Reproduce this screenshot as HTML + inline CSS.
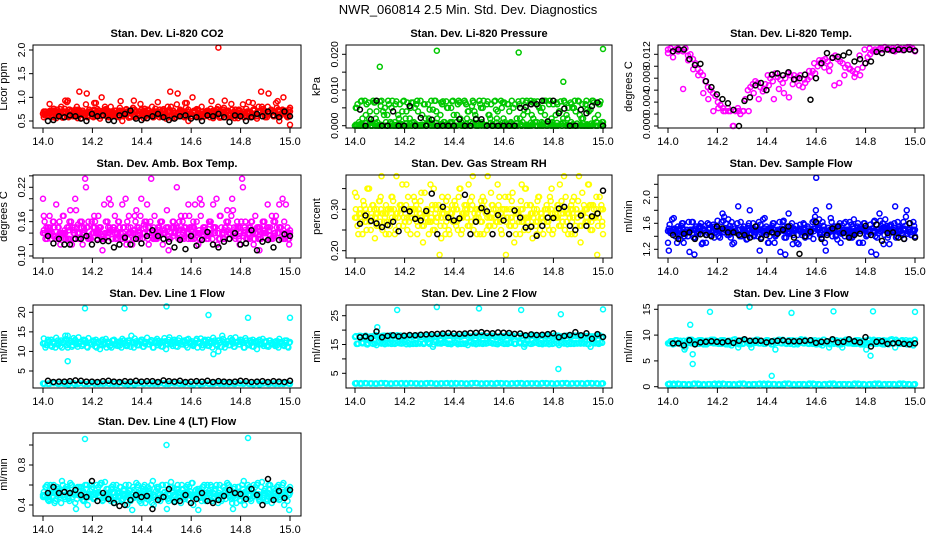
<!DOCTYPE html>
<html><head><meta charset="utf-8">
<style>
html,body{margin:0;padding:0;background:#fff;}
svg{display:block;font-family:"Liberation Sans",sans-serif;}
</style></head>
<body>
<svg id="chart" width="936" height="540" viewBox="0 0 936 540" xmlns="http://www.w3.org/2000/svg">
<rect x="0" y="0" width="936" height="540" fill="#fff"/>
<text x="468" y="14" text-anchor="middle" font-size="13">NWR_060814  2.5 Min. Std. Dev. Diagnostics</text>
</svg>
<script>
const xTicks = [14.0, 14.2, 14.4, 14.6, 14.8, 15.0];
const xTickLabels = ["14.0", "14.2", "14.4", "14.6", "14.8", "15.0"];

const co2Col = [0.65,0.7,0.6,0.72,0.58,0.68,0.62,0.75,0.57,0.66,0.93,0.7,0.6,0.74,0.56,0.68,0.72,0.62,0.58,0.7,0.66,0.6,0.75,0.55,0.7,0.8,0.62,0.58,0.68,0.72,0.6,0.78,0.5,0.66,0.7,0.6,0.74,0.58,0.65,0.7,0.62,0.76,0.56,0.68,0.8,0.6,0.7,0.58,0.72,0.64,0.6,0.74,0.56,0.68,0.85,0.62,0.7,0.58,0.88,0.66,0.6,0.72,0.75,0.58,0.8,0.66,0.62,0.7,0.92,0.6,0.74,0.66,0.58,0.78,0.68,0.62,0.86,0.7,0.6,0.74,0.66,0.58,0.76,0.9,0.64,0.72,0.6,0.8,1.12,0.68,0.62,1.08,0.74,0.6,0.88,0.7,0.64,1.0,0.72,0.6];
const co2Col2 = [0.66,0.62,0.7,0.64,0.68,0.6,0.66,0.7,0.62,0.68,0.64,0.66,0.7,0.62,0.66,0.68,0.64,0.7,0.62,0.66,0.68,0.64,0.66,0.7,0.62,0.68,0.72,0.66,0.7,0.74,0.68,0.72,0.66,0.7,0.72,0.68,0.74,0.7,0.66,0.72,0.7,0.68,0.74,0.7,0.72,0.68,0.7,0.74,0.72,0.7];
const co2OutX = [14.71, 14.09, 15.0];
const co2OutY = [2.05, 0.93, 0.42];
const co2Blk = [0.5,0.52,0.6,0.58,0.62,0.6,0.55,0.5,0.65,0.6,0.62,0.52,0.5,0.62,0.65,0.72,0.55,0.52,0.56,0.6,0.65,0.58,0.52,0.55,0.6,0.62,0.55,0.58,0.5,0.62,0.6,0.65,0.58,0.48,0.62,0.6,0.5,0.58,0.65,0.6,0.7,0.62,0.58,0.7,0.6];

const presCol = [0,0.006,0,0.002,0.007,0,0.004,0,0.0065,0.001,0.0068,0,0.005,0.003,0,0.007,0.001,0,0.006,0.004,0,0.0065,0.002,0,0.005,0.007,0,0.003,0.006,0,0.0045,0,0.007,0.002,0,0.006,0.001,0.005,0,0.0068,0,0.003,0.0065,0,0.007,0.002,0,0.0055,0.004,0,0.007,0.001,0,0.006,0.003,0,0.0068,0.002,0,0.005,0.0065,0,0.004,0.007,0,0.002,0.006,0,0.0045,0.007,0,0.003,0.0068,0,0.005,0.001,0.007,0,0.006,0.002,0,0.0065,0.004,0,0.007,0.003,0,0.006,0.005,0,0.0068,0.002,0,0.007,0.004,0,0.0065,0.001,0.006,0];
const presCol2 = [0,0.0004,0,0.0008,0,0.0003,0,0.001,0,0.0005,0,0.0006,0,0.0002,0,0.0009,0,0.0004,0,0.0007,0,0.0003,0,0.001,0,0.0005,0,0.0008,0,0.0002,0,0.0006,0,0.0004,0,0.0009,0,0.0003,0,0.0007,0,0.0005,0,0.001,0,0.0002,0,0.0006,0,0.0004];
const presOutX = [14.1, 14.33, 14.66, 14.84, 15.0];
const presOutY = [0.0165, 0.021, 0.0205, 0.0123, 0.0215];
const presBlk = [0.0045,0,0.0018,0.007,0,0,0.004,0,0,0.0055,0,0.0022,0,0.0017,0,0,0,0,0.0018,0,0,0.0018,0.0018,0,0,0,0,0,0,0.005,0.0052,0.006,0.006,0.007,0.0012,0.007,0.0035,0.0048,0,0,0.0045,0.0035,0.0055,0.0065,0];

const tempCol = [0.0128,0.013,0.0125,0.0128,0.013,0.0127,0.0125,0.013,0.0118,0.012,0.0112,0.0105,0.0095,0.009,0.0085,0.0075,0.0065,0.006,0.0055,0.005,0.004,0.0035,0.003,0.0025,0.003,0.0025,0.0,0.0025,0.003,0.002,0.0025,0.0045,0.006,0.0065,0.007,0.0075,0.0072,0.0065,0.0058,0.007,0.0085,0.008,0.0075,0.0088,0.0082,0.0078,0.0072,0.008,0.0088,0.0085,0.007,0.0078,0.0082,0.0085,0.0065,0.0072,0.0078,0.0082,0.0092,0.0088,0.01,0.0105,0.011,0.0112,0.0108,0.0102,0.0115,0.0118,0.0112,0.0108,0.0105,0.0098,0.0102,0.0096,0.0092,0.0088,0.0095,0.0085,0.0098,0.0105,0.0115,0.012,0.0125,0.0128,0.0125,0.013,0.0128,0.0132,0.013,0.0127,0.013,0.0128,0.0132,0.013,0.0127,0.013,0.0132,0.0128,0.013,0.0126];
const tempCol2 = [0.0122,0.0115,0.0125,0.0062,0.011,0.0095,0.0085,0.0055,0.0045,0.0025,0.003,0.0025,0.0025,0.0,0.0025,0.0025,0.0025,0.0055,0.0045,0.0062,0.0068,0.0045,0.0062,0.0055,0.0048,0.0085,0.0068,0.0078,0.0092,0.0105,0.011,0.0098,0.0092,0.0068,0.0072,0.0085,0.0095,0.0082,0.0118,0.0128,0.013,0.0125,0.0128,0.0132,0.0128,0.0125,0.0128,0.013,0.0132,0.0125];
const tempBlk = [0.0125,0.0128,0.0128,0.0112,0.0102,0.0104,0.0075,0.0065,0.0053,0.0045,0.0038,0.0027,0,0.0042,0.0048,0.0068,0.0072,0.006,0.0086,0.0088,0.0085,0.009,0.0078,0.008,0.0086,0.0044,0.008,0.0105,0.0122,0.0114,0.0116,0.0118,0.0123,0.0108,0.0112,0.0105,0.0108,0.0124,0.0122,0.0128,0.0126,0.0128,0.0127,0.0128,0.0126];

const ambCol = [0.2,0.13,0.15,0.14,0.16,0.13,0.15,0.12,0.17,0.14,0.13,0.18,0.15,0.2,0.14,0.16,0.12,0.235,0.15,0.13,0.14,0.16,0.13,0.15,0.11,0.14,0.16,0.15,0.13,0.17,0.14,0.15,0.19,0.13,0.16,0.14,0.12,0.17,0.15,0.14,0.13,0.16,0.19,0.15,0.14,0.17,0.13,0.15,0.16,0.14,0.18,0.13,0.15,0.14,0.22,0.16,0.13,0.15,0.14,0.17,0.15,0.13,0.16,0.14,0.19,0.15,0.13,0.16,0.14,0.15,0.2,0.13,0.15,0.14,0.16,0.13,0.17,0.14,0.15,0.13,0.16,0.14,0.13,0.15,0.16,0.12,0.14,0.15,0.13,0.16,0.14,0.15,0.13,0.16,0.17,0.14,0.15,0.13,0.19,0.14];
const ambCol2 = [0.14,0.145,0.135,0.15,0.14,0.13,0.145,0.155,0.14,0.13,0.15,0.14,0.135,0.15,0.145,0.13,0.14,0.15,0.145,0.135,0.14,0.15,0.13,0.145,0.14,0.15,0.135,0.14,0.145,0.13,0.15,0.14,0.145,0.135,0.15,0.14,0.13,0.145,0.14,0.15,0.135,0.14,0.145,0.13,0.14,0.15,0.135,0.14,0.145,0.13];
const ambBlk = [0.135,0.122,0.13,0.12,0.12,0.13,0.13,0.135,0.12,0.128,0.126,0.126,0.115,0.12,0.132,0.12,0.13,0.122,0.135,0.145,0.135,0.13,0.125,0.115,0.128,0.112,0.135,0.118,0.128,0.142,0.12,0.115,0.125,0.13,0.14,0.12,0.122,0.145,0.11,0.125,0.128,0.115,0.128,0.138,0.135];

const rhCol = [0.34,0.26,0.3,0.24,0.28,0.35,0.27,0.31,0.23,0.29,0.32,0.25,0.28,0.3,0.26,0.33,0.24,0.29,0.31,0.36,0.27,0.25,0.3,0.28,0.32,0.24,0.29,0.26,0.34,0.3,0.27,0.31,0.25,0.28,0.19,0.33,0.26,0.3,0.24,0.29,0.32,0.27,0.35,0.25,0.31,0.28,0.26,0.33,0.29,0.24,0.3,0.27,0.32,0.25,0.28,0.31,0.26,0.29,0.33,0.24,0.3,0.28,0.26,0.32,0.22,0.29,0.27,0.36,0.25,0.31,0.28,0.26,0.3,0.24,0.33,0.29,0.27,0.31,0.25,0.35,0.28,0.3,0.26,0.32,0.38,0.27,0.29,0.24,0.33,0.3,0.38,0.26,0.31,0.28,0.36,0.27,0.3,0.33,0.28,0.3];
const rhCol2 = [0.28,0.29,0.27,0.3,0.28,0.27,0.29,0.3,0.28,0.29,0.27,0.28,0.3,0.29,0.28,0.27,0.29,0.3,0.28,0.29,0.27,0.28,0.29,0.3,0.28,0.27,0.29,0.28,0.3,0.29,0.27,0.28,0.29,0.3,0.28,0.29,0.27,0.28,0.29,0.3,0.28,0.29,0.3,0.31,0.3,0.29,0.3,0.31,0.3,0.31];
const rhBlk = [0.265,0.285,0.272,0.266,0.257,0.262,0.27,0.247,0.3,0.295,0.277,0.273,0.296,0.338,0.24,0.306,0.28,0.273,0.278,0.335,0.24,0.27,0.303,0.295,0.24,0.286,0.273,0.24,0.297,0.28,0.256,0.258,0.236,0.26,0.28,0.279,0.302,0.306,0.26,0.25,0.285,0.26,0.283,0.29,0.345];

const sampCol = [1.3,1.45,1.5,1.4,1.55,1.35,1.6,1.45,1.4,1.5,1.62,1.38,1.48,1.55,1.3,1.5,1.6,1.42,1.46,1.52,1.64,1.38,1.75,1.5,1.42,1.56,1.28,1.48,1.6,1.4,1.52,1.45,1.36,1.8,1.5,1.42,1.56,1.18,1.48,1.68,1.5,1.4,1.56,1.3,1.45,1.62,1.5,1.38,1.55,1.44,1.6,1.48,1.3,1.52,1.42,1.58,1.46,1.4,1.5,1.64,1.6,1.66,1.38,1.55,1.48,1.86,1.62,1.5,1.42,1.56,1.44,1.6,1.5,1.4,1.58,1.66,1.46,1.3,1.52,1.6,1.4,1.5,1.16,1.62,1.12,1.45,1.56,1.28,1.5,1.42,1.58,1.46,1.38,1.55,1.48,1.62,1.7,1.5,1.42,1.62];
const sampCol2 = [1.48,1.5,1.45,1.52,1.46,1.5,1.47,1.52,1.45,1.5,1.48,1.46,1.52,1.49,1.5,1.46,1.48,1.52,1.5,1.47,1.49,1.51,1.46,1.5,1.48,1.52,1.5,1.47,1.49,1.52,1.54,1.56,1.53,1.55,1.52,1.5,1.48,1.52,1.5,1.49,1.5,1.47,1.5,1.52,1.48,1.5,1.49,1.51,1.47,1.5];
const sampOutX = [14.6];
const sampOutY = [2.3];
const sampBlk = [1.42,1.36,1.44,1.46,1.36,1.43,1.42,1.4,1.55,1.52,1.46,1.46,1.42,1.42,1.38,1.55,1.36,1.42,1.46,1.44,1.5,1.55,1.38,1.13,1.4,1.47,1.62,1.36,1.42,1.52,1.55,1.45,1.38,1.42,1.44,1.56,1.42,1.58,1.33,1.45,1.46,1.38,1.36,1.6,1.38];

const line1Col = [12,11,13,11.5,12.5,11,12.8,11.4,12.2,14,11,12.6,11.6,13,11.2,12.4,11.8,12.9,11,12.2,12.7,11.3,12.4,10.6,13,11.8,12.5,11.3,12.8,11.8,12.4,11.5,13.2,12,11.4,12.8,12.2,13.3,11.6,12.6,13,12,13.5,11.8,12.8,12.4,13.2,11.9,12.6,13.4,12,13.6,12.5,13,12.2,13.4,11.8,12.8,13,12.2,12.6,11.8,13.2,12.4,11.6,12.8,12,11.4,12.6,12.2,11.6,12.8,11.2,12.4,12,11.6,12.6,11.2,12.2,11.8,12.4,11,12.8,11.6,12.2,11.2,12.6,11.8,12,11.4,12.6,11.2,12.2,11.8,12.6,11,12.4,11.6,12.2,11];
const line1Low = [1.8,1.7,1.9,1.7,1.8,1.6,1.9,1.7,1.8,1.7,1.9,1.8,1.7,1.8,1.9,1.7,1.8,1.6,1.9,1.8,1.7,1.8,1.9,1.7,1.8,1.7,1.9,1.8,1.7,1.8,1.6,1.9,1.7,1.8,1.7,1.9,1.8,1.7,1.8,1.9,1.7,1.8,1.6,1.9,1.8,1.7,1.8,1.9,1.7,1.8];
const line1OutX = [14.17,14.33,14.5,14.67,14.83,15.0,14.1,14.1,14.69,14.71];
const line1OutY = [21,21,21.5,19.3,18.6,18.6,7.5,14,9.3,10];
const line1Blk = [2.5,2.2,2.3,2.3,2.4,2.6,2.5,2.3,2.3,2.2,2.4,2.5,2.3,2.2,2.4,2.3,2.5,2.3,2.4,2.4,2.2,2.6,2.4,2.3,2.5,2.2,2.3,2.4,2.3,2.5,2.2,2.4,2.3,2.2,2.3,2.5,2.4,2.2,2.3,2.4,2.2,2.4,2.3,2.2,2.5];

const line2Col = [17.6,15.2,17.9,15.4,17.3,15,16.2,17.8,15.3,17.6,15.5,18,15.1,17.4,15.6,17.8,15.2,18.2,15.4,17.5,15.8,17.9,15.1,17.6,15.5,18.1,15.3,17.7,15.6,18,15.2,17.8,15.9,17.5,15.4,18.2,15.6,17.9,15.3,18,15.7,18.1,15.4,17.8,15.2,18.3,15.8,17.6,15.5,18,15.3,18.2,15.6,17.9,15.9,18.1,15.4,17.7,15.6,18,15.2,17.9,15.5,18.2,15.3,17.6,15.8,18,14.2,17.8,15.4,18.1,15.6,17.7,15.2,18,15.5,17.9,15.1,17.6,15.4,18,14.8,17.8,15.3,18.1,15.6,17.7,15.2,17.9,15.5,18,15.3,17.6,15.1,17.8,15.4,18,15.2,17.6];
const line2Low = [1.5,1.4,1.6,1.5,1.4,1.5,1.6,1.4,1.5,1.5,1.4,1.6,1.5,1.4,1.5,1.6,1.4,1.5,1.5,1.4,1.6,1.5,1.4,1.5,1.6,1.4,1.5,1.5,1.4,1.6,1.5,1.4,1.5,1.6,1.4,1.5,1.5,1.4,1.6,1.5,1.4,1.5,1.6,1.4,1.5,1.5,1.4,1.6,1.5,1.4];
const line2OutX = [14.09,14.17,14.33,14.5,14.67,14.82,14.83,15.0];
const line2OutY = [21,27,28,27.5,27,6.5,25.5,27.2];
const line2Blk = [17.5,17.8,17.2,19.5,17.5,18,18.2,17.8,18.1,18.3,18.2,18.4,18.5,18.6,18.7,18.8,19,18.8,18.7,18.8,19,19.1,19.3,19,18.9,19.2,19.1,19,18.7,18.8,18.2,18.5,18.3,18.4,18.6,18.9,17.5,18,18.3,19.3,18.2,18.9,17,18.6,17.6];

const line3Col = [8.4,8.8,8.2,9,8.5,8.9,8.3,7.6,8.7,9.1,8.4,8.8,8.3,9,8.6,8.2,8.9,8.5,9.1,8.4,8.8,8.3,9,8.6,8.2,8.9,8.5,9.2,8.4,8.8,8.3,9,8.6,8.2,8.9,8.5,9.1,8.4,8.8,8.3,9,8.6,8.2,8.9,8.5,9.1,8.4,8.8,8.3,9,8.6,8.2,8.9,8.5,9.1,8.4,8.8,8.3,9,8.6,8.2,8.9,8.5,9.1,8.4,7.6,8.8,8.3,9,8.6,8.2,8.9,8.5,9.1,8.4,8.8,8.3,9,8.6,8.2,7.2,8.9,8.5,9.1,8.4,8.8,8.3,9,8.6,8.2,8.9,8.5,9.1,8.4,8.8,8.3,9,8.6,8.2,8];
const line3Low = [0.5,0.4,0.6,0.5,0.4,0.5,0.6,0.4,0.5,0.5,0.4,0.6,0.5,0.4,0.5,0.6,0.4,0.5,0.5,0.4,0.6,0.5,0.4,0.5,0.6,0.4,0.5,0.5,0.4,0.6,0.5,0.4,0.5,0.6,0.4,0.5,0.5,0.4,0.6,0.5,0.4,0.5,0.6,0.4,0.5,0.5,0.4,0.6,0.5,0.4];
const line3OutX = [14.09,14.1,14.1,14.17,14.33,14.42,14.5,14.67,14.82,14.83,15.0];
const line3OutY = [12,6.3,4.4,14.5,15.5,2.1,14.3,14.6,6,14.6,14.5];
const line3Blk = [8.4,8.4,8,9,8.2,8.6,8.7,8.8,8.7,8.6,8.8,8.5,8.9,9.2,8.9,8.9,8.9,8.6,8.8,8.9,9,8.8,8.8,8.8,8.9,9,8.5,8.7,8.8,9.2,8.6,8.7,9.2,8.8,8.6,9.6,7.8,8.7,8.8,8.3,8.4,8.5,8.3,8.2,8.4];

const line4Col = [0.48,0.58,0.45,0.6,0.52,0.44,0.56,0.5,0.6,0.46,0.55,0.62,0.48,0.42,0.58,0.5,0.45,0.6,0.4,0.54,0.58,0.47,0.52,0.6,0.44,0.63,0.5,0.46,0.56,0.42,0.52,0.58,0.45,0.5,0.4,0.55,0.35,0.48,0.58,0.44,0.52,0.6,0.46,0.56,0.42,0.5,0.58,0.46,0.6,0.53,0.36,0.5,0.58,0.44,0.56,0.48,0.6,0.46,0.52,0.58,0.62,0.45,0.5,0.56,0.44,0.6,0.48,0.54,0.58,0.46,0.6,0.52,0.44,0.58,0.5,0.6,0.46,0.56,0.42,0.58,0.52,0.64,0.48,0.56,0.44,0.6,0.5,0.46,0.58,0.52,0.44,0.6,0.5,0.56,0.46,0.6,0.5,0.62,0.48,0.56];
const line4Col2 = [0.5,0.52,0.48,0.54,0.5,0.47,0.52,0.5,0.54,0.48,0.5,0.52,0.47,0.5,0.53,0.49,0.51,0.48,0.52,0.5,0.54,0.48,0.5,0.52,0.49,0.51,0.53,0.48,0.5,0.52,0.5,0.54,0.48,0.51,0.52,0.49,0.5,0.53,0.48,0.52,0.5,0.54,0.49,0.51,0.5,0.52,0.48,0.5,0.53,0.5];
const line4OutX = [14.17,14.5,14.83];
const line4OutY = [1.06,1.0,1.07];
const line4Blk = [0.52,0.58,0.52,0.53,0.52,0.55,0.5,0.48,0.64,0.44,0.52,0.46,0.42,0.39,0.4,0.45,0.5,0.48,0.49,0.36,0.45,0.48,0.56,0.43,0.44,0.5,0.42,0.46,0.52,0.44,0.42,0.45,0.49,0.55,0.52,0.51,0.46,0.56,0.5,0.4,0.66,0.45,0.54,0.47,0.55];

const co2Ticks = [0.5,1.0,1.5,2.0];            const co2Labels = ["0.5","1.0","1.5","2.0"];
const presTicks = [0,0.005,0.01,0.015,0.02];   const presLabels = ["0.000","","0.010","","0.020"];
const tempTicks = [0,0.002,0.004,0.006,0.008,0.01,0.012]; const tempLabels = ["0.000","","0.004","","0.008","","0.012"];
const ambTicks = [0.10,0.12,0.14,0.16,0.18,0.20,0.22,0.24]; const ambLabels = ["0.10","","","0.16","","","0.22",""];
const rhTicks = [0.20,0.25,0.30,0.35];         const rhLabels = ["0.20","","0.30",""];
const sampTicks = [1.2,1.4,1.6,1.8,2.0,2.2];   const sampLabels = ["1.2","","1.6","","2.0",""];
const line1Ticks = [5,10,15,20];               const line1Labels = ["5","10","15","20"];
const line2Ticks = [5,10,15,20,25];            const line2Labels = ["5","","15","","25"];
const line3Ticks = [0,5,10,15];                const line3Labels = ["0","5","10","15"];
const line4Ticks = [0.4,0.6,0.8,1.0];          const line4Labels = ["0.4","","0.8",""];

const NS = "http://www.w3.org/2000/svg";
const svg = document.getElementById("chart");
const cols = [{l:33,r:301,x0:43,x1:290},{l:346,r:612,x0:355,x1:603},{l:658,r:924,x0:668,x1:915}];
const rowTops = [45,175,305,433];
const RED="#ff0000",GRN="#00c800",MAG="#ff00ff",YEL="#ffff00",BLU="#0000ff",CYN="#00ffff",BLK="#000000";

function mk(tag, attrs, parent){const e=document.createElementNS(NS,tag);for(const k in attrs)e.setAttribute(k,attrs[k]);(parent||svg).appendChild(e);return e;}
function evenX(n,a,b){const o=[];for(let i=0;i<n;i++)o.push(a+(b-a)*i/(n-1));return o;}

function panel(ci, ri, slug, title, ylab, v1, p1, v2, p2, ticks, labels, series){
  const c=cols[ci], top=rowTops[ri], bot=top+83;
  const g=mk("g",{});
  
  
  const sx=v=>c.x0+(v-14)*(c.x1-c.x0);
  const sy=v=>top+p1+(v-v1)*(p2-p1)/(v2-v1);
  const t=mk("text",{x:(c.l+c.r)/2,y:top-8,"text-anchor":"middle","font-size":"11","font-weight":"bold"},g);
  t.textContent=title;
  
  
  const yl=mk("text",{transform:`translate(${c.l-26},${(top+bot)/2}) rotate(-90)`,"text-anchor":"middle","font-size":"11"},g);
  yl.textContent=ylab;
  
  
  xTicks.forEach((v,i)=>{
    const x=sx(v);
    const tk=mk("line",{x1:x,y1:bot,x2:x,y2:bot+5,stroke:"#000","stroke-width":"1"},g);
    
    
    const tl=mk("text",{x:x,y:bot+17,"text-anchor":"middle","font-size":"11"},g);
    tl.textContent=xTickLabels[i];
    
    
  });
  ticks.forEach((v,i)=>{
    const y=sy(v);
    const tk=mk("line",{x1:c.l-4,y1:y,x2:c.l,y2:y,stroke:"#000","stroke-width":"1"},g);
    
    
    if(labels[i]){
      const tl=mk("text",{transform:`translate(${c.l-8},${y}) rotate(-90)`,"text-anchor":"middle","font-size":"10.5"},g);
      tl.textContent=labels[i];
      
      
    }
  });
  series.forEach(s=>{
    const n=s.ys.length;
    const passes = s.xs ? 1 : (s.dense ? 3 : 1);
    for(let k=0;k<passes;k++){
      const xs = s.xs || evenX(n, s.a + k*0.0033, s.b - (passes-1-k)*0.0033);
      for(let i=0;i<n;i++){
        const v = s.ys[(i + k*37) % n];
        const p=mk("circle",{cx:sx(xs[i]),cy:sy(v),r:"2.5",fill:"none",stroke:s.color,"stroke-width":"1.5"},g);
        
        
      }
    }
  });
  const box=mk("rect",{x:c.l,y:top,width:c.r-c.l,height:bot-top,fill:"none",stroke:"#000","stroke-width":"1"},g);
  
  
}

panel(0,0,"co2","Stan. Dev. Li-820 CO2","Licor ppm",2.0,5,0.5,76,co2Ticks,co2Labels,[
 {name:"main",ys:co2Col,a:14,b:15,color:RED,dense:true},{name:"main2",ys:co2Col2,a:14,b:15,color:RED,dense:true},
 {name:"outlier",xs:co2OutX,ys:co2OutY,color:RED},{name:"reference",ys:co2Blk,a:14.02,b:15,color:BLK}]);
panel(1,0,"pressure","Stan. Dev. Li-820 Pressure","kPa",0.02,9.3,0,80.7,presTicks,presLabels,[
 {name:"main",ys:presCol,a:14,b:15,color:GRN,dense:true},{name:"main2",ys:presCol2,a:14,b:15,color:GRN,dense:true},
 {name:"outlier",xs:presOutX,ys:presOutY,color:GRN},{name:"reference",ys:presBlk,a:14.02,b:15,color:BLK}]);
panel(2,0,"temp","Stan. Dev. Li-820 Temp.","degrees C",0.012,9.3,0,81,tempTicks,tempLabels,[
 {name:"main",ys:tempCol,a:14,b:15,color:MAG},{name:"main2",ys:tempCol2,a:14,b:15,color:MAG},
 {name:"reference",ys:tempBlk,a:14.02,b:15,color:BLK}]);
panel(0,1,"ambtemp","Stan. Dev. Amb. Box Temp.","degrees C",0.22,12.3,0.10,81,ambTicks,ambLabels,[
 {name:"main",ys:ambCol,a:14,b:15,color:MAG,dense:true},{name:"main2",ys:ambCol2,a:14,b:15,color:MAG,dense:true},
 {name:"reference",ys:ambBlk,a:14.02,b:15,color:BLK}]);
panel(1,1,"rh","Stan. Dev. Gas Stream RH","percent",0.30,34.3,0.20,75.7,rhTicks,rhLabels,[
 {name:"main",ys:rhCol,a:14,b:15,color:YEL,dense:true},{name:"main2",ys:rhCol2,a:14,b:15,color:YEL,dense:true},
 {name:"reference",ys:rhBlk,a:14.02,b:15,color:BLK}]);
panel(2,1,"sampleflow","Stan. Dev. Sample Flow","ml/min",2.0,22.3,1.2,74.3,sampTicks,sampLabels,[
 {name:"main",ys:sampCol,a:14,b:15,color:BLU,dense:true},{name:"main2",ys:sampCol2,a:14,b:15,color:BLU,dense:true},
 {name:"outlier",xs:sampOutX,ys:sampOutY,color:BLU},{name:"reference",ys:sampBlk,a:14.02,b:15,color:BLK}]);
panel(0,2,"line1","Stan. Dev. Line 1 Flow","ml/min",20,7.3,5,66,line1Ticks,line1Labels,[
 {name:"main",ys:line1Col,a:14,b:15,color:CYN,dense:true},{name:"low",ys:line1Low,a:14,b:15,color:CYN,dense:true},
 {name:"outlier",xs:line1OutX,ys:line1OutY,color:CYN},{name:"reference",ys:line1Blk,a:14.02,b:15,color:BLK}]);
panel(1,2,"line2","Stan. Dev. Line 2 Flow","ml/min",25,10.7,5,68.3,line2Ticks,line2Labels,[
 {name:"main",ys:line2Col,a:14,b:15,color:CYN,dense:true},{name:"low",ys:line2Low,a:14,b:15,color:CYN,dense:true},
 {name:"outlier",xs:line2OutX,ys:line2OutY,color:CYN},{name:"reference",ys:line2Blk,a:14.02,b:15,color:BLK}]);
panel(2,2,"line3","Stan. Dev. Line 3 Flow","ml/min",15,4.3,0,81.7,line3Ticks,line3Labels,[
 {name:"main",ys:line3Col,a:14,b:15,color:CYN,dense:true},{name:"low",ys:line3Low,a:14,b:15,color:CYN,dense:true},
 {name:"outlier",xs:line3OutX,ys:line3OutY,color:CYN},{name:"reference",ys:line3Blk,a:14.02,b:15,color:BLK}]);
panel(0,3,"line4","Stan. Dev. Line 4 (LT) Flow","ml/min",0.8,32,0.4,72,line4Ticks,line4Labels,[
 {name:"main",ys:line4Col,a:14,b:15,color:CYN,dense:true},{name:"main2",ys:line4Col2,a:14,b:15,color:CYN,dense:true},
 {name:"outlier",xs:line4OutX,ys:line4OutY,color:CYN},{name:"reference",ys:line4Blk,a:14.02,b:15,color:BLK}]);
</script>
</body></html>
